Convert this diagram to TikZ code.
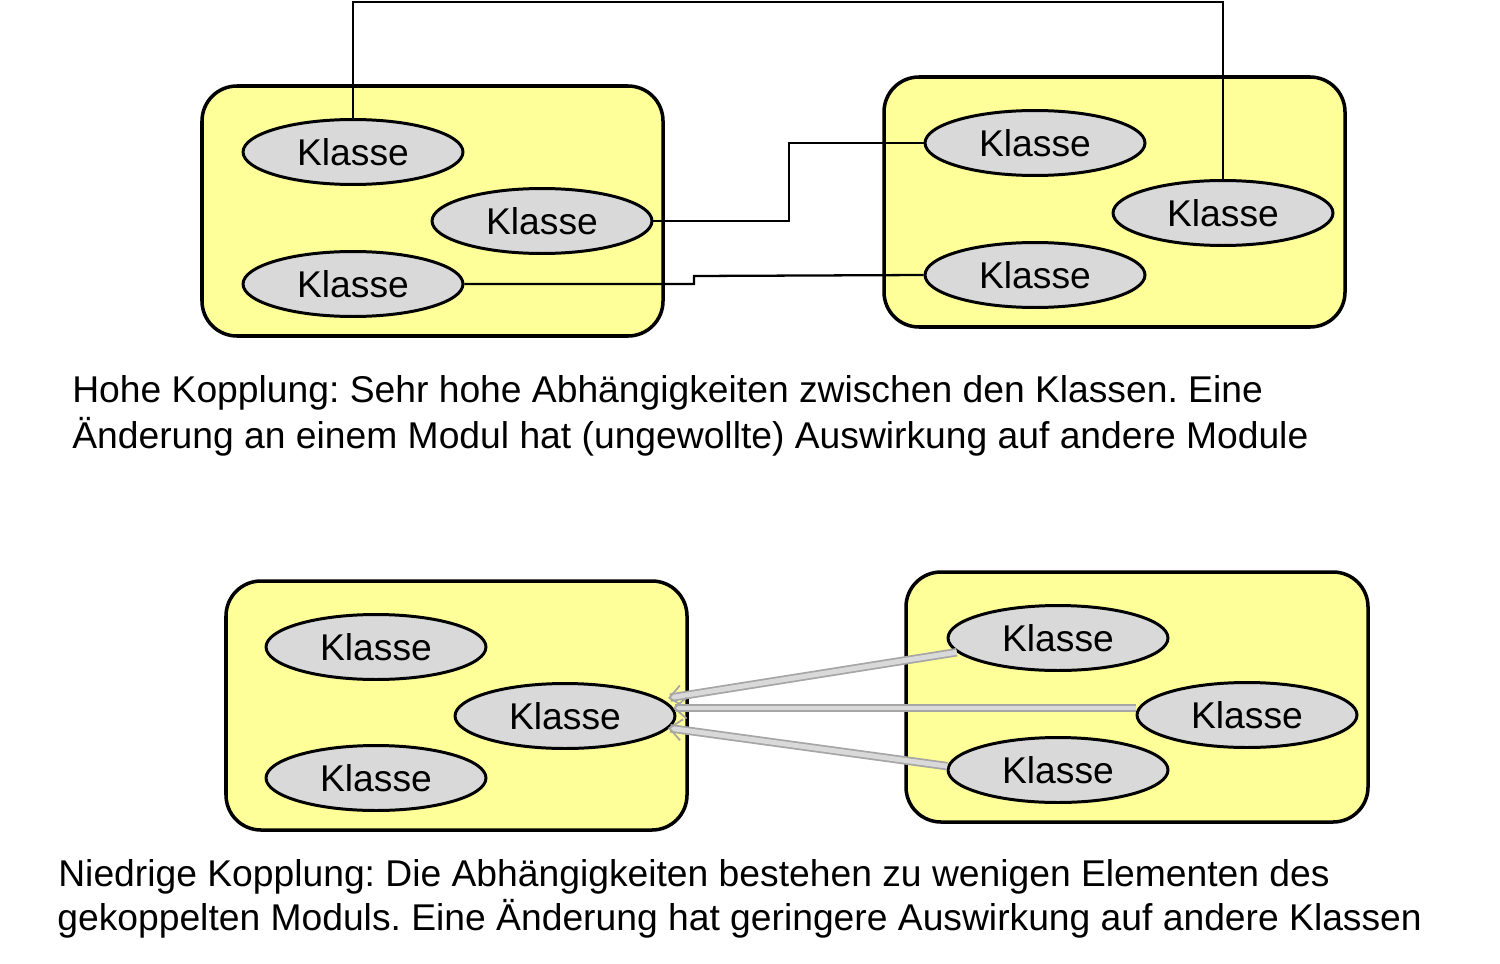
\documentclass[tikz,border=0pt]{standalone}
\usepackage{fontspec}
\setmainfont{Liberation Sans}
\usetikzlibrary{shapes.geometric}
\usetikzlibrary{arrows.meta}
\definecolor{modgelb}{HTML}{FFFF99}
\definecolor{klgrau}{HTML}{D9D9D9}
\definecolor{pfgrau}{HTML}{A6A6A6}
\tikzset{
  modul/.style={draw=black, line width=2pt, fill=modgelb, rounded corners=0.7cm},
  klasse/.style={ellipse, draw=black, line width=1.7pt, fill=klgrau, inner sep=0pt,
    minimum width=4.4cm, minimum height=1.3cm, font=\fontsize{21.2}{25}\selectfont},
  abh/.style={line width=1.3pt},
  pfeil/.style={draw=pfgrau, line width=1pt, double=klgrau, double distance=2.8pt,
    -{Straight Barb[length=7pt, width=12pt]}},
  txt/.style={anchor=base west, inner sep=0pt, font=\fontsize{21.2}{25}\selectfont}
}

\begin{document}
\frenchspacing
\begin{tikzpicture}[x=0.02cm, y=-0.02cm]
    \useasboundingbox (0,0) rectangle (1500,963);

    % hohe Kopplung
    \draw[modul] (202,86) rectangle (663,336);
    \draw[modul] (884,77) rectangle (1345,327);
    \node[klasse] (ha) at (353,152) {Klasse};
    \node[klasse] (hb) at (542,221) {Klasse};
    \node[klasse] (hc) at (353,284) {Klasse};
    \node[klasse] (hd) at (1035,143) {Klasse};
    \node[klasse] (he) at (1223,213) {Klasse};
    \node[klasse] (hf) at (1035,275) {Klasse};
    \draw[abh] (hb.east) -- (789,221) |- (hd.west);
    \draw[abh] (hc.east) -- (694,284) -- (694,276) -- (hf.west);
    \draw[abh] (he.north) -- (1223,2) -| (ha.north);

    \node[txt] (hl1) at (72,402) {Hohe Kopplung: Sehr hohe Abhängigkeiten zwischen den Klassen. Eine};
    \node[txt] (hl2) at (72,448) {Änderung an einem Modul hat (ungewollte) Auswirkung auf andere Module};

    % niedrige Kopplung
    \draw[modul] (226,581) rectangle (687,830);
    \draw[modul] (906,572) rectangle (1368,822);
    \node[klasse] (na) at (376,647) {Klasse};
    \node[klasse] (nb) at (565,716) {Klasse};
    \node[klasse] (nc) at (376,778) {Klasse};
    \node[klasse] (nd) at (1058,638) {Klasse};
    \node[klasse] (ne) at (1247,715) {Klasse};
    \node[klasse] (nf) at (1058,770) {Klasse};
    \coordinate (tipa) at (668,698);
    \coordinate (tipb) at (673,708);
    \coordinate (tipc) at (668,728);
    \draw[pfeil] (nd.188) -- (tipa);
    \draw[pfeil] (ne.west |- 0,708) -- (tipb);
    \draw[pfeil] (nf.178) -- (tipc);

    \node[txt] (nl1) at (58,886) {Niedrige Kopplung: Die Abhängigkeiten bestehen zu wenigen Elementen des};
    \node[txt] (nl2) at (57,930) {gekoppelten Moduls. Eine Änderung hat geringere Auswirkung auf andere Klassen};
\end{tikzpicture}
\end{document}
